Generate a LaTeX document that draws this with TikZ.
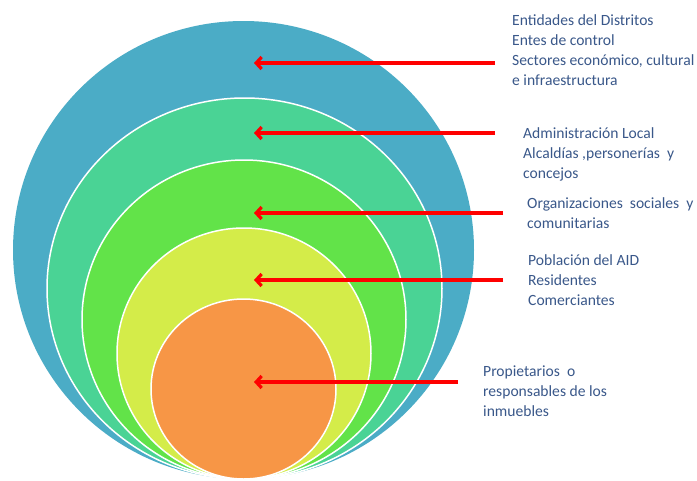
\documentclass[tikz,border=0pt]{standalone}
\usepackage{fontspec}
\setmainfont{Carlito}
\usetikzlibrary{arrows.meta}
\definecolor{ringA}{RGB}{75,172,198}
\definecolor{ringB}{RGB}{74,211,149}
\definecolor{ringC}{RGB}{98,227,73}
\definecolor{ringD}{RGB}{212,236,73}
\definecolor{ringE}{RGB}{247,150,70}
\definecolor{txtblue}{RGB}{58,88,138}
\tikzset{
  ring/.style={draw=white,line width=1.5pt},
  arr/.style={draw=red,line width=3.2pt,-{Straight Barb[length=5.5pt,width=12pt]}},
  lbl/.style={anchor=north west,inner sep=0pt,align=left,text=txtblue,font=\fontsize{15.6}{20}\selectfont}
}
\begin{document}
\begin{tikzpicture}[x=1pt,y=-1pt]
\useasboundingbox (0,0) rectangle (697,480);
\fill[white] (0,0) rectangle (697,480);
\filldraw[ring,fill=ringA,draw=none] (243.5,250) ellipse [x radius=230.5pt,y radius=229pt];
\filldraw[ring,fill=ringB] (244.5,288.5) ellipse [x radius=197.5pt,y radius=190.5pt];
\filldraw[ring,fill=ringC] (244,319.5) ellipse [x radius=162pt,y radius=159.5pt];
\filldraw[ring,fill=ringD] (244,353.5) ellipse [x radius=127pt,y radius=125.5pt];
\filldraw[ring,fill=ringE] (243.5,389) ellipse [x radius=92.5pt,y radius=90pt];

\coordinate (t1) at (495,63);  \coordinate (h1) at (254,63);
\coordinate (t2) at (495,133); \coordinate (h2) at (254,133);
\coordinate (t3) at (503,213); \coordinate (h3) at (254,213);
\coordinate (t4) at (503,280); \coordinate (h4) at (254,280);
\coordinate (t5) at (458,382); \coordinate (h5) at (254,382);
\draw[arr] (t1) -- (h1);
\draw[arr] (t2) -- (h2);
\draw[arr] (t3) -- (h3);
\draw[arr] (t4) -- (h4);
\draw[arr] (t5) -- (h5);

\node[lbl] (l1) at (512,14) {Entidades del Distritos\\Entes de control\\Sectores económico, cultural\\e infraestructura};
\node[lbl] (l2) at (523,127) {Administración Local\\Alcaldías ,personerías~ y\\concejos};
\node[lbl] (l3) at (527,197) {Organizaciones~ sociales~ y\\comunitarias};
\node[lbl] (l4) at (528,254) {Población del AID\\Residentes\\Comerciantes};
\node[lbl] (l5) at (483,366) {Propietarios~ o\\responsables de los\\inmuebles};
\end{tikzpicture}
\end{document}
